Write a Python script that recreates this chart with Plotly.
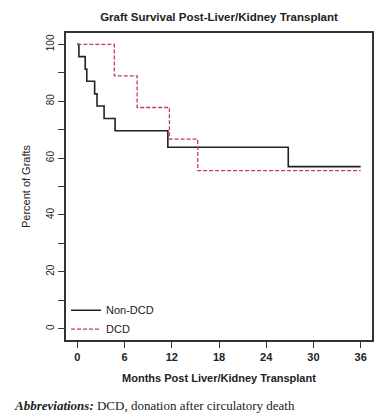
import plotly.graph_objects as go

# Data (Kaplan-Meier style step curves)
non_dcd_months = [0, 0.2, 1.0, 1.2, 2.2, 2.5, 3.4, 4.8, 11.5, 26.8, 36]
non_dcd_pct = [100, 95.7, 91.3, 87.0, 82.6, 78.3, 73.9, 69.6, 63.8, 57.0, 57.0]

dcd_months = [0, 4.7, 7.6, 11.7, 15.3, 36]
dcd_pct = [100, 88.9, 77.8, 66.7, 55.6, 55.6]

x_ticks = [0, 6, 12, 18, 24, 30, 36]
y_ticks = [0, 20, 40, 60, 80, 100]

FONT = "Liberation Sans, Arial, sans-serif"
OFF = 8  # page body margin
W, H = 387 - OFF, 417 - OFF
L, R, T, B = 66 - OFF, 15, 33 - OFF, 77
PW, PH = W - L - R, H - T - B

fig = go.Figure()
fig.add_trace(go.Scatter(
    x=non_dcd_months, y=non_dcd_pct, mode="lines", name="Non-DCD",
    line=dict(color="#222222", width=1.6, shape="hv"),
))
fig.add_trace(go.Scatter(
    x=dcd_months, y=dcd_pct, mode="lines", name="DCD",
    line=dict(color="#c8385a", width=1.3, shape="hv", dash="4px,2px"),
))

fig.update_layout(
    width=W, height=H,
    margin=dict(l=L, r=R, t=T, b=B),
    paper_bgcolor="white", plot_bgcolor="white",
    font=dict(family=FONT, color="#222222"),
    title=dict(
        text="<b>Graft Survival Post-Liver/Kidney Transplant</b>",
        x=(L + PW / 2) / W, xanchor="center", y=1 - (17 - OFF) / H, yanchor="middle",
        font=dict(size=11.5, family=FONT, color="#222222"),
    ),
    showlegend=True,
    legend=dict(
        x=0.0, y=-0.012, xanchor="left", yanchor="bottom",
        bgcolor="rgba(0,0,0,0)", borderwidth=0,
        font=dict(size=11, family=FONT, color="#222222"),
        itemwidth=30, tracegroupgap=0,
    ),
    xaxis=dict(
        range=[-1.44, 37.44], tickmode="array", tickvals=x_ticks,
        ticktext=[str(v) for v in x_ticks],
        ticks="outside", ticklen=6, tickcolor="#333333", tickwidth=1,
        showline=True, linecolor="#333333", linewidth=1.5, mirror=True,
        showgrid=False, zeroline=False,
        tickfont=dict(size=11, family=FONT, weight="bold"),
        title=dict(text="<b>Months Post Liver/Kidney Transplant</b>",
                   font=dict(size=11, family=FONT), standoff=12),
    ),
    yaxis=dict(
        range=[-4, 104], tickmode="array", tickvals=y_ticks,
        ticktext=[str(v) for v in y_ticks], tickangle=-90,
        ticks="outside", ticklen=6, tickcolor="#333333", tickwidth=1,
        minor=dict(tickvals=[10, 30, 50, 70, 90], ticks="outside",
                   ticklen=6, tickcolor="#333333", tickwidth=1),
        showline=True, linecolor="#333333", linewidth=1.5, mirror=True,
        showgrid=False, zeroline=False,
        tickfont=dict(size=10, family=FONT),
        title=dict(text="Percent of Grafts",
                   font=dict(size=11, family=FONT), standoff=12),
    ),
    annotations=[dict(
        text="<b><i>Abbreviations:</i></b> DCD, donation after circulatory death",
        xref="paper", yref="paper", x=-(66 - 12) / PW, y=-(405 - 340) / PH,
        xanchor="left", yanchor="middle", showarrow=False,
        font=dict(size=13, family="Liberation Serif, serif", color="#222222"),
    )],
)

fig.write_html("out.html")
